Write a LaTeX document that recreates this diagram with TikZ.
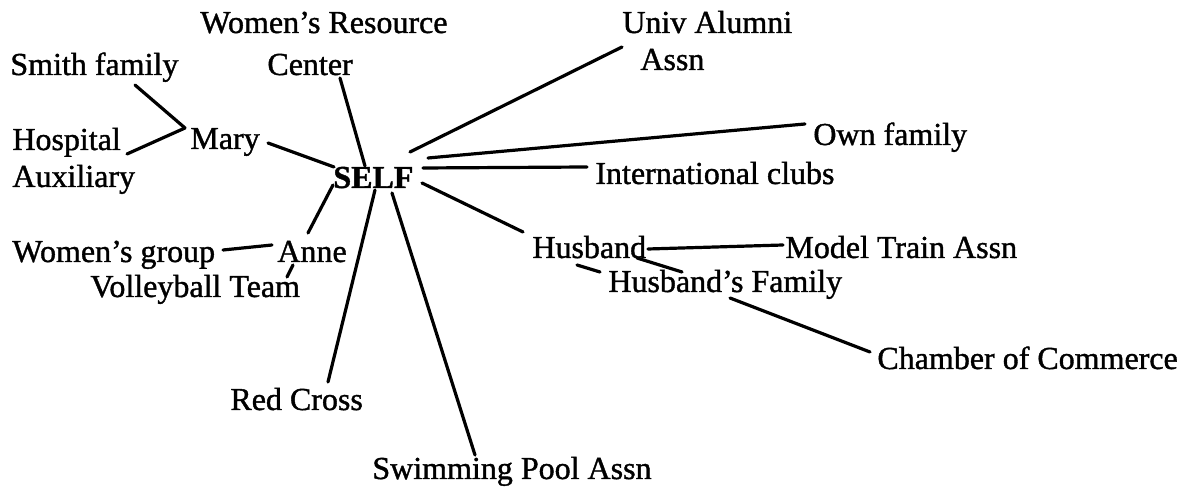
\documentclass[tikz,border=0pt]{standalone}
\usepackage{fontspec}
\setmainfont{Liberation Serif}
\newfontfamily\scanfont{Liberation Serif}[FakeBold=1.2]
\newfontfamily\scanbold{Liberation Serif Bold}[FakeBold=1.2]
\usetikzlibrary{calc}
\tikzset{
  lab/.style={anchor=base west, inner sep=0pt, font=\scanfont\fontsize{16}{19}\selectfont},
  boldlab/.style={anchor=base west, inner sep=0pt, font=\scanbold\fontsize{16}{19}\selectfont},
  link/.style={line width=1.6pt, line cap=round}
}
\begin{document}
\begin{tikzpicture}[x=0.5pt,y=-0.5pt]
\useasboundingbox[fill=white] (0,0) rectangle (1198,490);
% nodes
\node[lab] (wrc) at (200,33) {\vtop{\baselineskip=21pt\hbox{Women’s Resource}\hbox{\hspace*{33.5pt}Center}}};
\node[lab] (smith) at (10,75) {Smith family};
\node[lab] (univ) at (622,33) {\vtop{\baselineskip=18.5pt\hbox{Univ Alumni}\hbox{\hspace*{9pt}Assn}}};
\node[lab] (hosp) at (12,150) {\vtop{\baselineskip=18.5pt\hbox{Hospital}\hbox{Auxiliary}}};
\node[lab] (mary) at (190,149) {Mary};
\node[boldlab] (self) at (333,188) {SELF};
\node[lab] (own) at (813,145) {Own family};
\node[lab] (intl) at (595,184) {International clubs};
\node[lab] (wgroup) at (12,262) {Women’s group};
\node[lab] (anne) at (277,262) {Anne};
\node[lab] (volley) at (90,297) {Volleyball Team};
\node[lab] (husband) at (532,258) {Husband};
\node[lab] (model) at (785,258) {Model Train Assn};
\node[lab] (hfam) at (608,292) {Husband’s Family};
\node[lab] (chamber) at (877,369) {Chamber of Commerce};
\node[lab] (red) at (230,410) {Red Cross};
\node[lab] (swim) at (372,479) {Swimming Pool Assn};
% connectors
\draw[link] ($(smith.base west)+(125,10)$) -- ($(mary.base west)+(-5,-21)$);
\draw[link] ($(hosp.base west)+(115,4)$) -- ($(mary.base west)+(-5,-21)$);
\draw[link] ($(mary.base west)+(78,-6)$) -- ($(self.base west)+(1,-21)$);
\draw[link] ($(wrc.base west)+(140,45)$) -- ($(self.base west)+(32,-22)$);
\draw[link] ($(self.base west)+(0,-3)$) -- ($(anne.base west)+(31,-29)$);
\draw[link] ($(self.base west)+(42,2)$) -- ($(red.base west)+(98,-28)$);
\draw[link] ($(self.base west)+(59,5)$) -- ($(swim.base west)+(103,-24)$);
\draw[link] ($(self.base west)+(77,-36)$) -- ($(univ.base west)+(0,14)$);
\draw[link] ($(self.base west)+(95,-30)$) -- ($(own.base west)+(-8,-21)$);
\draw[link] ($(self.base west)+(90,-20)$) -- ($(intl.base west)+(-8,-17)$);
\draw[link] ($(self.base west)+(89,-5)$) -- ($(husband.base west)+(-9,-26)$);
\draw[link] ($(wgroup.base west)+(211,-12)$) -- ($(anne.base west)+(-5,-17)$);
\draw[link] ($(anne.base west)+(16,3)$) -- ($(volley.base west)+(197,-20)$);
\draw[link] ($(husband.base west)+(116,-9)$) -- ($(model.base west)+(-2,-13)$);
\draw[link] ($(husband.base west)+(45,7)$) -- ($(hfam.base west)+(-8,-20)$);
\draw[link] ($(husband.base west)+(105,0)$) -- ($(hfam.base west)+(74,-20)$);
\draw[link] ($(hfam.base west)+(122,6)$) -- ($(chamber.base west)+(-7,-17)$);
\end{tikzpicture}
\end{document}
